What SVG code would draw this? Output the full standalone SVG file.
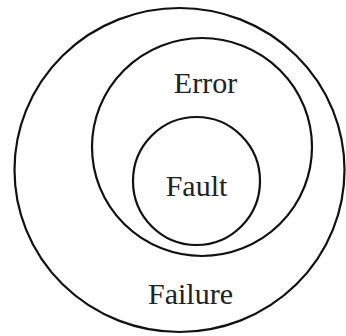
<svg xmlns="http://www.w3.org/2000/svg" width="346" height="336" viewBox="0 0 346 336">
<style>
.ring{fill:none;stroke:#111;stroke-width:2.2}
.lbl{font-family:"Liberation Serif","Times New Roman",serif;font-size:30px;fill:#222;text-anchor:middle}
</style>
<rect width="346" height="336" fill="#fff"/>
<g id="failure">
<ellipse class="ring" cx="179.5" cy="170" rx="165" ry="162"/>
<text class="lbl" x="190.5" y="304">Failure</text>
</g>
<g id="error">
<ellipse class="ring" cx="202" cy="147" rx="110" ry="109"/>
<text class="lbl" x="205.5" y="93">Error</text>
</g>
<g id="fault">
<ellipse class="ring" cx="196.5" cy="181" rx="63.5" ry="64"/>
<text class="lbl" x="196.5" y="196">Fault</text>
</g>
<g id="connectors"/>
</svg>
